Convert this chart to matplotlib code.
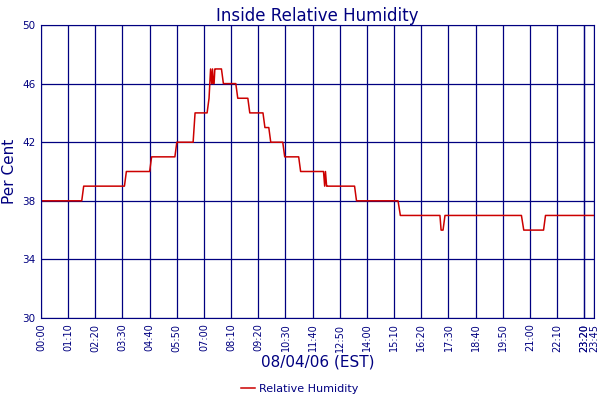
import matplotlib
matplotlib.use("Agg")
import matplotlib.pyplot as plt

# minutes after midnight, relative humidity (%)
minutes = [0, 105, 110, 215, 220, 280, 285, 345, 350, 392, 397, 428, 433, 437,
           440, 442, 444, 446, 448, 450, 465, 470, 502, 507, 533, 538, 572, 577,
           587, 592, 623, 628, 664, 669, 728, 731, 733, 736, 738, 743, 808, 813,
           920, 926, 1028, 1031, 1036, 1041, 1238, 1244, 1295, 1300, 1425]
humidity = [38, 38, 39, 39, 40, 40, 41, 41, 42, 42, 44, 44, 45, 47,
            46, 47, 46, 46, 47, 47, 47, 46, 46, 45, 45, 44, 44, 43,
            43, 42, 42, 41, 41, 40, 40, 39, 40, 39, 39, 39, 39, 38,
            38, 37, 37, 36, 36, 37, 37, 36, 36, 37, 37]

tick_min = list(range(0, 1425, 70)) + [1400, 1425]
tick_lab = ["%02d:%02d" % (m // 60, m % 60) for m in tick_min]
yticks = [30, 34, 38, 42, 46, 50]

navy = "#000080"
fig = plt.figure(figsize=(6, 4), dpi=100)
ax = fig.add_axes([41 / 600, 82 / 400, 553 / 600, 293 / 400])
ax.plot(minutes, humidity, color="#cc0000", lw=1.1, label="Relative Humidity")
ax.set_xlim(0, 1425)
ax.set_ylim(30, 50)
ax.set_xticks(tick_min)
ax.set_xticklabels(tick_lab, rotation=90, fontsize=7, color=navy)
ax.set_yticks(yticks)
ax.set_yticklabels(yticks, fontsize=7.5, color=navy)
ax.tick_params(length=0, pad=4)
ax.grid(True, color=navy, lw=0.9)
for s in ax.spines.values():
    s.set_color(navy)
ax.set_title("Inside Relative Humidity", color=navy, fontsize=12, pad=3)
ax.set_ylabel("Per Cent", color=navy, fontsize=11, labelpad=4)
ax.set_xlabel("08/04/06 (EST)", color=navy, fontsize=11, labelpad=2)
fig.legend(loc="lower center", bbox_to_anchor=(0.5, -0.01), frameon=False,
           fontsize=8, labelcolor=navy, handlelength=1.2, handletextpad=0.4)
fig.savefig("out.png", dpi=100)
